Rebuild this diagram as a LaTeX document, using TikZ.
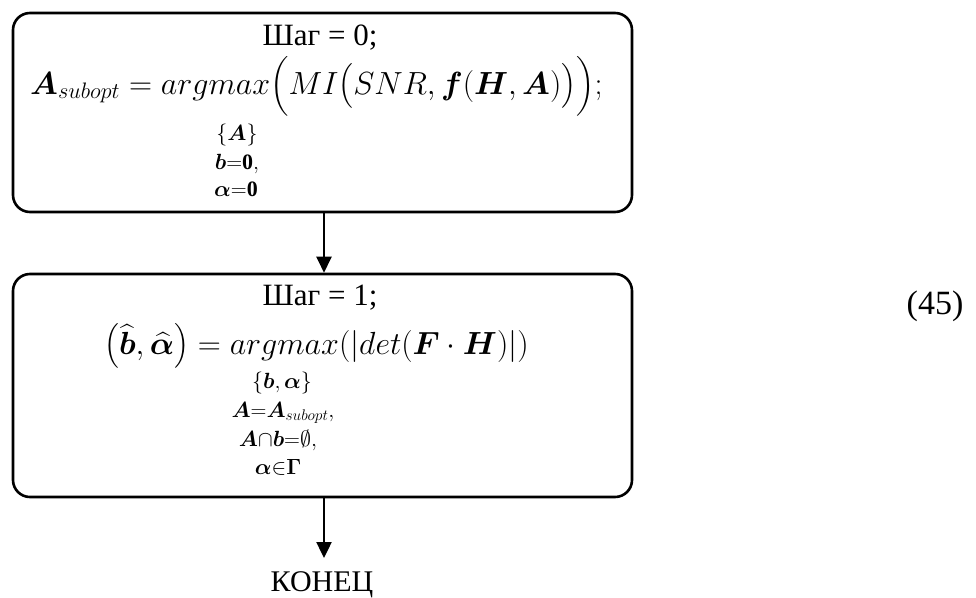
\documentclass[tikz,border=0pt]{standalone}
\usepackage{fix-cm}
\usepackage{amsmath,bm}
\usepackage{fontspec}
\setmainfont{Liberation Serif}
\usetikzlibrary{arrows.meta}

\tikzset{
  stepbox/.style={draw, line width=2.6pt, rounded corners=17pt, inner sep=0pt},
  flow/.style={line width=2.4pt, -{Triangle[length=16pt,width=15pt]}},
  title/.style={font=\fontsize{31}{36}\selectfont, inner sep=0pt, anchor=base},
  formula/.style={font=\fontsize{32}{38}\selectfont, inner sep=0pt, anchor=base west},
  limits/.style={font=\fontsize{22}{26}\selectfont, inner sep=0pt, anchor=base},
}

\begin{document}
\begin{tikzpicture}[x=1pt, y=-1pt]
  \useasboundingbox (0,0) rectangle (976,597);

  % step 0
  \node[stepbox, minimum width=619pt, minimum height=199pt] (s0) at (322.5,112.5) {};
  \node[title] (s0t) at (320,45) {Шаг = 0;};
  \node[formula] (s0f) at (30,94)
    {$\bm{A}_{subopt} = argmax \Bigl( MI\bigl(SNR, \bm{f}(\bm{H},\bm{A})\bigr)\Bigr);$};
  \node[limits] (s0l1) at (237,140) {$\{\bm{A}\}$};
  \node[limits] (s0l2) at (237,169) {$\bm{b}{=}\mathbf{0},$};
  \node[limits] (s0l3) at (236,196) {$\bm{\alpha}{=}\mathbf{0}$};

  % step 1
  \node[stepbox, minimum width=619pt, minimum height=223pt] (s1) at (322.5,385.5) {};
  \node[title] (s1t) at (320,305) {Шаг = 1;};
  \node[formula] (s1f) at (104,354)
    {$\bigl(\widehat{\bm{b}}, \widehat{\bm{\alpha}}\bigr) = argmax(|det(\bm{F}\cdot\bm{H})|)$};
  \node[limits] (s1l1) at (282,388) {$\{\bm{b},\bm{\alpha}\}$};
  \node[limits] (s1l2) at (283,417) {$\bm{A}{=}\bm{A}_{subopt},$};
  \node[limits] (s1l3) at (278,446) {$\bm{A}{\cap}\bm{b}{=}\emptyset,$};
  \node[limits] (s1l4) at (278,474) {$\bm{\alpha}{\in}\bm{\Gamma}$};

  % end
  \node[font=\fontsize{30}{36}\selectfont, inner sep=0pt, anchor=base] (fin) at (322,591) {КОНЕЦ};
  \coordinate (tip) at (324,558);

  % equation number
  \node[font=\fontsize{34}{40}\selectfont, inner sep=0pt] (num) at (935,306) {(45)};

  % connectors
  \draw[flow] ([xshift=1.5pt]s0.south) -- ([xshift=1.5pt]s1.north);
  \draw[flow] ([xshift=1.5pt]s1.south) -- (tip);
\end{tikzpicture}
\end{document}
